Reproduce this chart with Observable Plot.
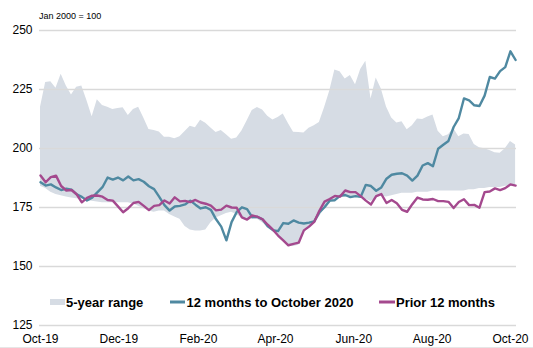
<!DOCTYPE html>
<html>
<head>
<meta charset="utf-8">
<script src="https://cdn.jsdelivr.net/npm/d3@7"></script>
<script src="https://cdn.jsdelivr.net/npm/@observablehq/plot@0.6"></script>
<style>
  body { margin: 0; background: #fff; }
  #chart svg { display: block; }
</style>
</head>
<body>
<div id="chart"></div>
<script>
// ---- Data (index, Jan 2000 = 100), sampled roughly every 4 days from 1 Oct 2019 ----
const startDate = "2019-10-01";
const stepDays = 370 / 92;

const rangeHigh = [217.5, 228, 228.3, 225.5, 231.5, 226.5, 222.7, 226.0, 226.5, 220.2,
 213.5, 220.7, 218.2, 217.5, 216.5, 217.0, 217.3, 214.0, 216.5, 217.5,
 212.9, 208.1, 207.6, 207.0, 204.8, 204.8, 204.1, 205.0, 207.2, 209.4,
 208.8, 212.0, 210.7, 208.7, 206.8, 207.6, 205.8, 203.9, 204.5, 207.4,
 211.6, 216.1, 217.4, 216.3, 213.7, 212.1, 213.1, 214.6, 210.6, 206.9,
 206.8, 206.6, 208.6, 209.6, 211.0, 217.3, 224.3, 233.3, 232.5, 229.4,
 230.9, 227.0, 233.5, 237.0, 221.0, 229.9, 225.2, 217.6, 212.9, 210.8,
 211.3, 207.9, 209.6, 212.5, 212.3, 213.3, 214.2, 207.3, 205.0, 205.8,
 208.5, 205.0, 206.1, 205.9, 201.7, 200.3, 199.9, 199.2, 198.2, 198.0,
 199.9, 203.0, 201.5];

const rangeLow = [184, 183, 181.5, 180.5, 180, 179.5, 179, 178.7, 178.5, 178,
 177.7, 177.3, 177, 177, 177, 177, 177, 177, 176.5, 175.5,
 174.5, 173.5, 173, 173.5, 173.5, 172, 171, 170, 167, 165.5,
 165, 165, 165.5, 168.5, 170.5, 171.5, 172.5, 173, 172, 170.5,
 169.5, 170, 170, 168.5, 166.5, 165, 163, 161, 159, 158.5,
 159, 164, 166.5, 168, 171, 174.5, 177, 178, 179, 179.5,
 179.5, 179.5, 179, 178.5, 177.5, 179, 180, 179.5, 180, 180.5,
 181, 181, 181, 181.5, 181.5, 181.5, 182, 182, 182, 182,
 182, 182, 182, 182.5, 182.5, 183, 183, 183.5, 183.5, 183.5,
 184, 184, 184];

const last12 = [185.7, 184.3, 184.8, 183.5, 182.4, 183.0, 182.6, 180.6, 179.5, 178.0,
 179.2, 181.4, 183.6, 187.7, 186.8, 187.7, 186.5, 188.1, 186.5, 187.0,
 185.9, 184.0, 182.8, 179.5, 176.0, 173.7, 175.4, 175.7, 176.3, 177.9,
 176.2, 174.6, 175.1, 174.0, 170.0, 166.9, 161.1, 168.8, 173.1, 175.1,
 174.3, 170.9, 171.0, 170.0, 167.0, 165.4, 165.0, 168.4, 168.1, 169.5,
 168.6, 168.2, 168.6, 169.1, 172.9, 175.1, 177.9, 178.1, 179.9, 180.3,
 179.4, 179.8, 179.5, 184.6, 184.1, 182.1, 183.5, 187.2, 188.9, 189.3,
 189.5, 188.5, 186.4, 188.5, 192.8, 193.8, 192.5, 199.9, 201.6, 203.2,
 209.1, 212.9, 221.2, 220.4, 218.3, 218.0, 222.4, 230.3, 229.6, 232.8,
 234.5, 241.2, 237.5];

const prior12 = [188.6, 185.7, 187.9, 188.5, 184.1, 182.2, 182.4, 180.6, 177.2, 179.1,
 180.0, 180.1, 179.6, 178.2, 177.9, 175.5, 173.0, 174.7, 176.9, 177.4,
 175.7, 173.9, 175.7, 176.0, 178.0, 176.7, 179.3, 177.6, 177.8, 177.3,
 178.2, 177.1, 176.6, 175.8, 173.8, 174.1, 175.8, 175.0, 174.9, 170.8,
 169.9, 171.6, 171.1, 170.0, 167.7, 165.6, 163.1, 161.1, 159.0, 159.6,
 160.1, 165.3, 166.9, 168.9, 173.6, 177.5, 178.6, 179.9, 179.6, 182.2,
 181.5, 181.5, 179.8, 177.9, 176.3, 179.8, 180.7, 176.9, 178.2, 176.8,
 174.0, 173.2, 176.4, 179.2, 178.4, 178.3, 178.6, 177.7, 177.7, 177.4,
 174.8, 177.3, 178.5, 176.0, 176.1, 174.9, 181.5, 181.8, 183.1, 182.4,
 183.2, 184.8, 184.3];

const xTicks = ["2019-10-01", "2019-12-01", "2020-02-01", "2020-04-01", "2020-06-01", "2020-08-01", "2020-10-01"];
const yTicks = [125, 150, 175, 200, 225, 250];
const seriesNames = ["5-year range", "12 months to October 2020", "Prior 12 months"];
const colors = { range: "#d6dce4", last: "#4f89a1", prior: "#a4498e", grid: "#d9d9d9" };

// ---- Build tables ----
const t0 = new Date(startDate + "T00:00:00Z").getTime();
const dates = rangeHigh.map((_, i) => new Date(t0 + i * stepDays * 864e5));
const rangeData = dates.map((d, i) => ({ date: d, lo: rangeLow[i], hi: rangeHigh[i] }));
const lastData = dates.map((d, i) => ({ date: d, v: last12[i] }));
const priorData = dates.map((d, i) => ({ date: d, v: prior12[i] }));

const xDomain = [new Date(t0 - 0.78 * 864e5), new Date(t0 + 370.7 * 864e5)];

const fmt = d3.utcFormat("%b-%y");

const plot = Plot.plot({
  width: 533,
  height: 348,
  marginLeft: 39,
  marginRight: 17,
  marginTop: 30,
  marginBottom: 23,
  style: { fontFamily: "'Liberation Sans', Arial, sans-serif", fontSize: "12px", color: "#000", background: "#fff" },
  x: { type: "utc", domain: xDomain, ticks: xTicks.map(s => new Date(s + "T00:00:00Z")), tickFormat: fmt, tickSize: 0, tickPadding: 9, label: null },
  y: { domain: [125, 250], ticks: yTicks, tickSize: 0, tickPadding: 7, label: null },
  marks: [
    Plot.areaY(rangeData, { x: "date", y1: "lo", y2: "hi", fill: colors.range }),
    Plot.ruleY(yTicks, { stroke: colors.grid, strokeWidth: 1.6 }),
    Plot.lineY(lastData, { x: "date", y: "v", stroke: colors.last, strokeWidth: 2.4 }),
    Plot.lineY(priorData, { x: "date", y: "v", stroke: colors.prior, strokeWidth: 2.4 })
  ]
});

document.getElementById("chart").appendChild(plot);

// ---- Annotations & legend ----
const svg = d3.select(plot);
svg.append("text")
  .attr("x", 39).attr("y", 19)
  .attr("text-anchor", "start")
  .attr("font-family", "'Liberation Sans', Arial, sans-serif")
  .attr("font-size", 9).attr("fill", "#000")
  .text("Jan 2000 = 100");

const lg = svg.append("g")
  .attr("text-anchor", "start")
  .attr("font-family", "'Liberation Sans', Arial, sans-serif")
  .attr("font-size", 13).attr("font-weight", "bold").attr("fill", "#000");
lg.append("rect").attr("x", 50).attr("y", 299).attr("width", 15).attr("height", 6).attr("fill", colors.range);
lg.append("text").attr("x", 66).attr("y", 306.5).text(seriesNames[0]);
lg.append("line").attr("x1", 170).attr("x2", 185).attr("y1", 302).attr("y2", 302).attr("stroke", colors.last).attr("stroke-width", 3);
lg.append("text").attr("x", 186.5).attr("y", 306.5).text(seriesNames[1]);
lg.append("line").attr("x1", 379).attr("x2", 395).attr("y1", 302).attr("y2", 302).attr("stroke", colors.prior).attr("stroke-width", 3);
lg.append("text").attr("x", 396).attr("y", 306.5).text(seriesNames[2]);
svg.append("line").attr("x1", 0).attr("x2", 533).attr("y1", 347.5).attr("y2", 347.5).attr("stroke", "#e6e6e6").attr("stroke-width", 1);
</script>
</body>
</html>
